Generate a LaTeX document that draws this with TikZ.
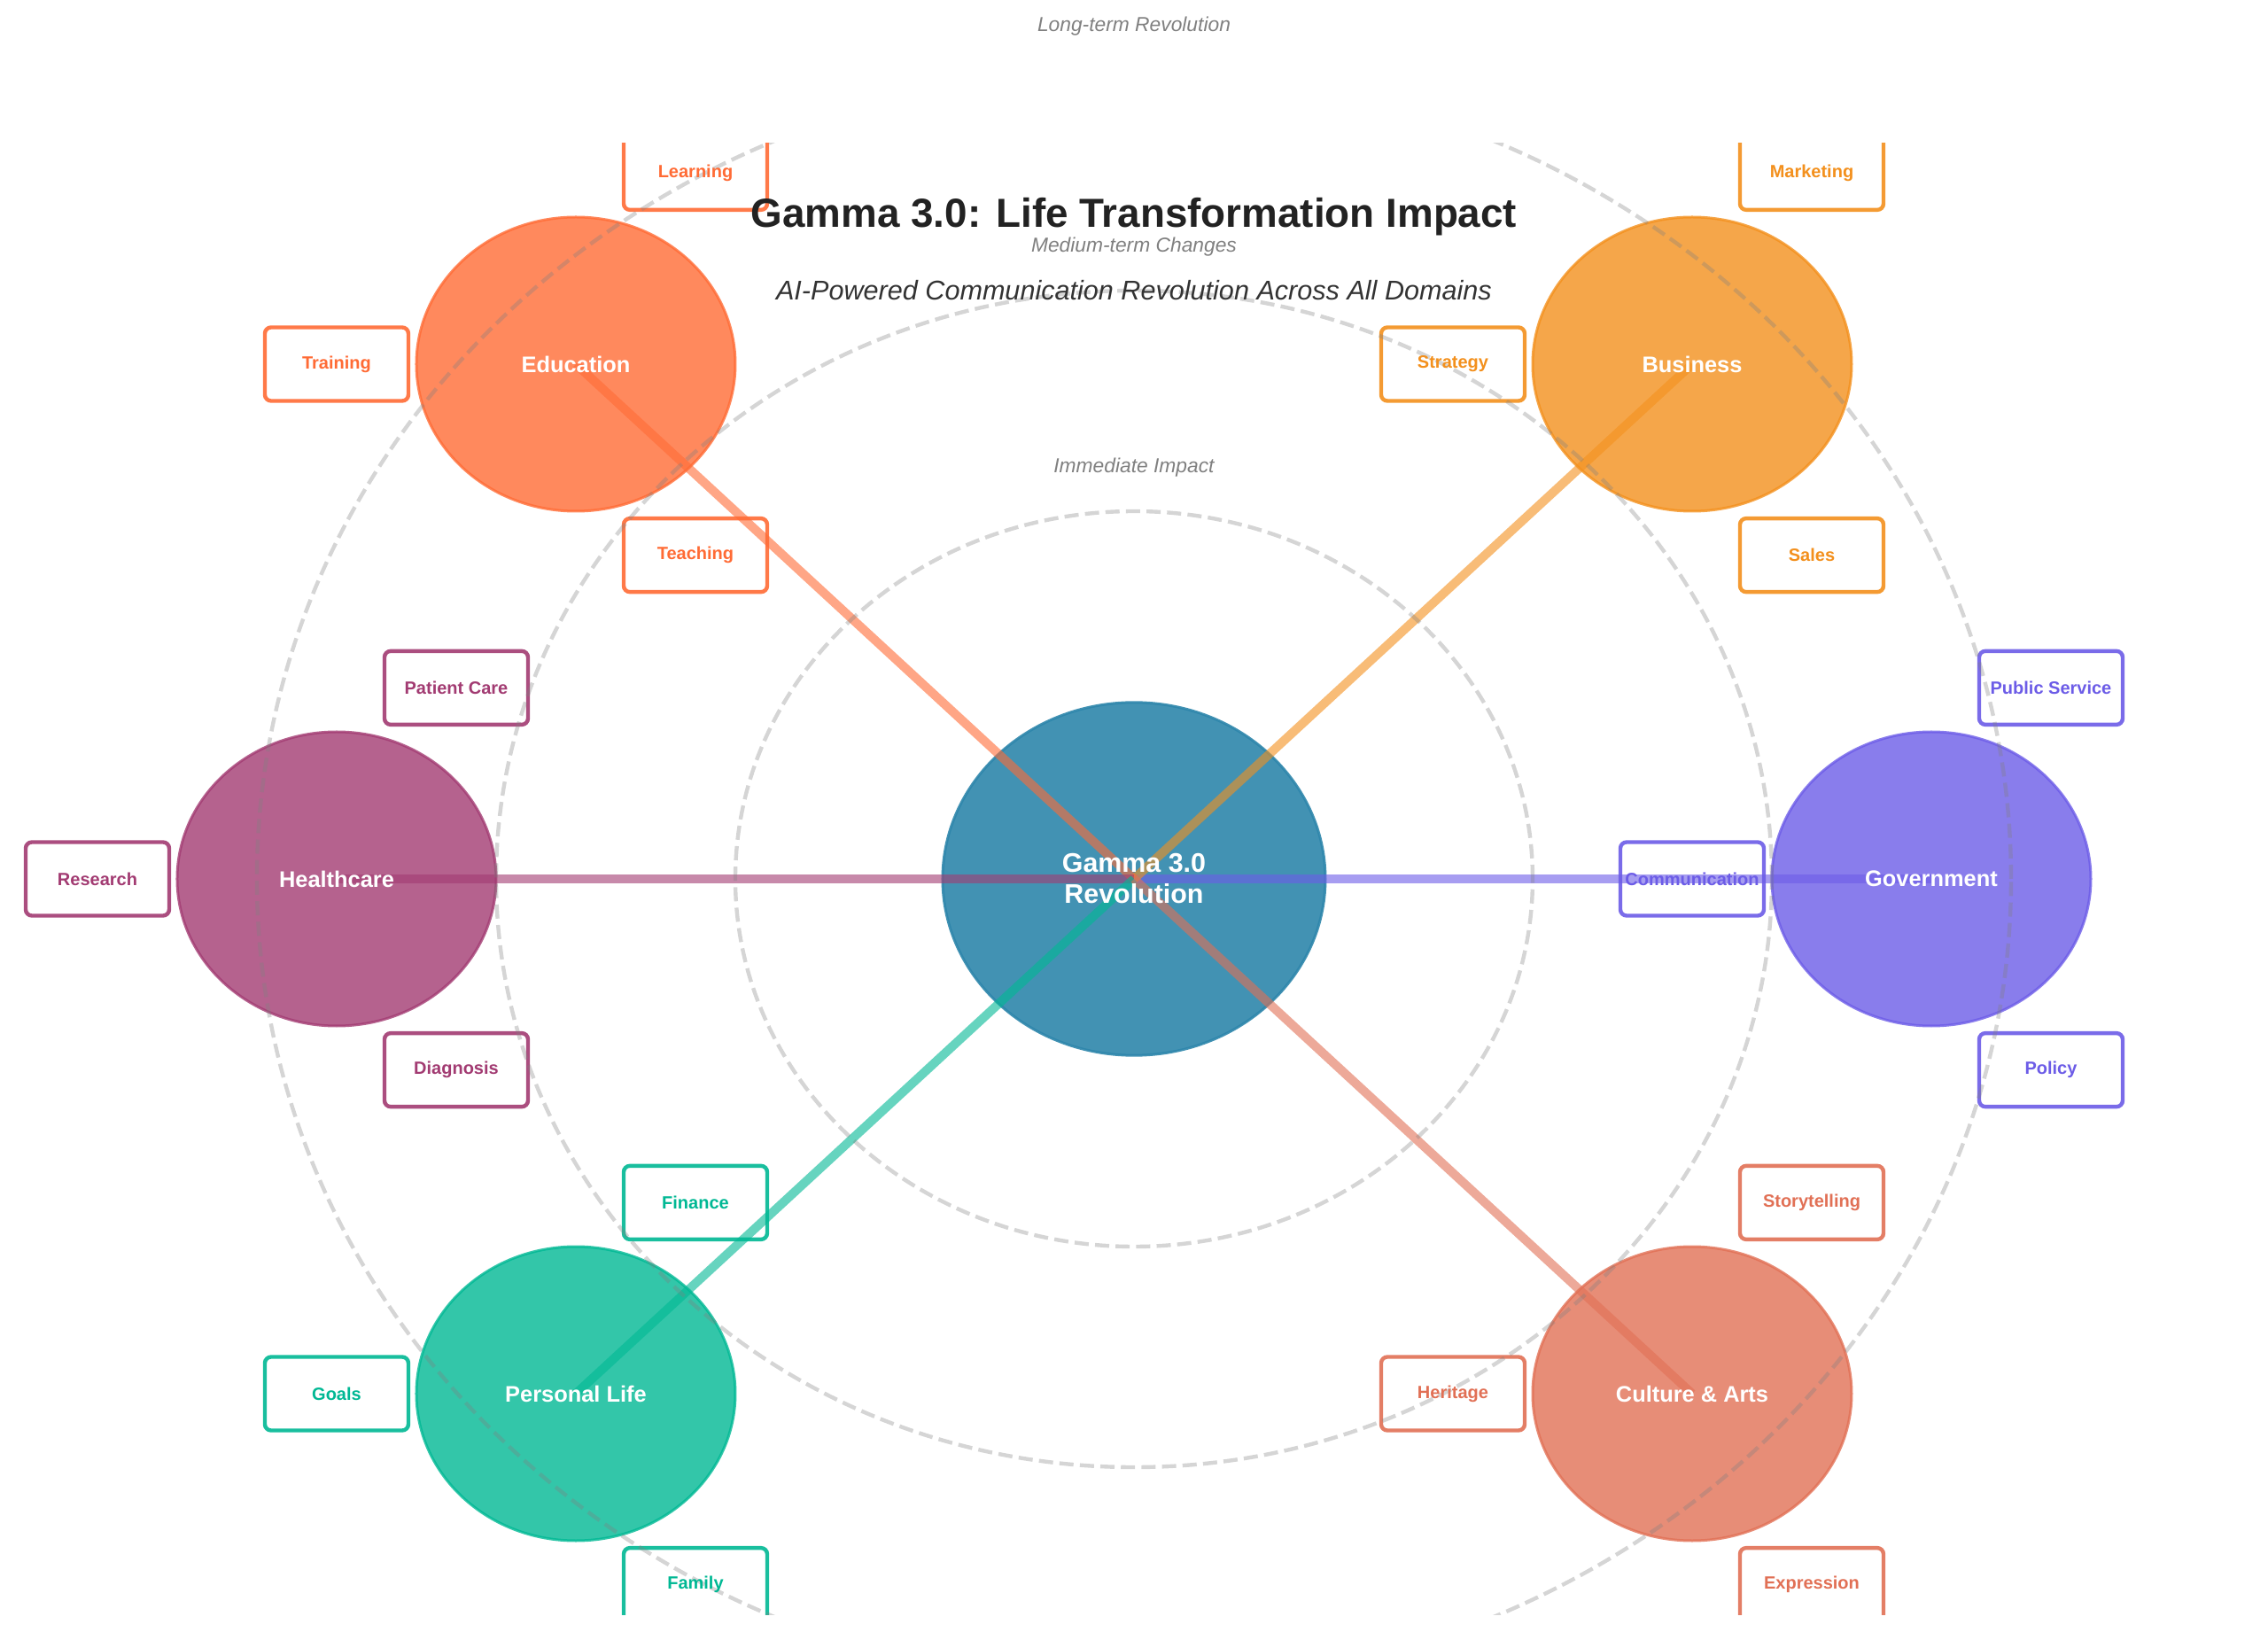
\documentclass[tikz,border=0pt]{standalone}
\usepackage{fontspec}
\setmainfont{Liberation Sans}
\usetikzlibrary{shapes.geometric,calc}
\definecolor{cHub}{HTML}{2E86AB}
\definecolor{cEdu}{HTML}{FF6B35}
\definecolor{cBus}{HTML}{F3901D}
\definecolor{cHea}{HTML}{A23B72}
\definecolor{cGov}{HTML}{6C5CE7}
\definecolor{cPer}{HTML}{00B894}
\definecolor{cCul}{HTML}{E17055}
\definecolor{cTitle}{HTML}{222222}
\definecolor{cSub}{HTML}{333333}
\definecolor{cRing}{HTML}{808080}
\begin{document}
\begin{tikzpicture}[x=90pt,y=83pt,
  dom/.style={ellipse, minimum width=180pt, minimum height=166pt, inner sep=0pt,
    fill=#1, draw=#1, line width=1.5pt, opacity=0.8},
  hub/.style={ellipse, minimum width=216pt, minimum height=199.2pt, inner sep=0pt,
    fill=cHub, draw=cHub, line width=1.5pt, opacity=0.9},
  subbox/.style={rectangle, rounded corners=3.5pt, minimum width=81pt, minimum height=41.5pt,
    inner sep=0pt, fill=white, draw=#1, line width=2.2pt, draw opacity=0.9},
  conn/.style={line width=5pt, draw=#1, opacity=0.6},
  ringline/.style={draw=cRing, line width=2.2pt, dash pattern=on 8pt off 3.6pt, opacity=0.33},
  domtxt/.style={text=white, inner sep=0pt, font=\fontsize{12.7}{15}\selectfont\bfseries},
  hubtxt/.style={text=white, inner sep=0pt, align=center, font=\fontsize{15.2}{17.5}\selectfont\bfseries},
  subtxt/.style={text=#1, inner sep=0pt, font=\fontsize{10}{12}\selectfont\bfseries},
  ringtxt/.style={text=cRing, inner sep=0pt, font=\fontsize{11.4}{13}\selectfont\itshape},
]
\useasboundingbox (-7.11111,-5.12048) rectangle (7.11111,5.97590);

\begin{scope}
\clip (-7.2,-5) rectangle (7.2,5);
% domain shapes and their sub-item boxes
\foreach \n/\px/\py/\c in {
  gov/5/0/cGov,
  bus/3.5/3.5/cBus,
  edu/-3.5/3.5/cEdu,
  hea/-5/0/cHea,
  per/-3.5/-3.5/cPer,
  cul/3.5/-3.5/cCul}{
  \node[dom=\c] (\n) at (\px,\py) {};
  \node[subbox=\c] (\n-a) at ($(\n)+(0.75,1.299)$) {};
  \node[subbox=\c] (\n-b) at ($(\n)+(-1.5,0)$) {};
  \node[subbox=\c] (\n-c) at ($(\n)+(0.75,-1.299)$) {};
}
\node[hub] (hub) at (0,0) {};
% connectors
\draw[conn=cGov] (hub.center) -- (gov.center);
\draw[conn=cBus] (hub.center) -- (bus.center);
\draw[conn=cEdu] (hub.center) -- (edu.center);
\draw[conn=cHea] (hub.center) -- (hea.center);
\draw[conn=cPer] (hub.center) -- (per.center);
\draw[conn=cCul] (hub.center) -- (cul.center);
% rings
\draw[ringline] (0,0) ellipse [x radius=225pt, y radius=207.5pt];
\draw[ringline] (0,0) ellipse [x radius=360pt, y radius=332pt];
\draw[ringline] (0,0) ellipse [x radius=495pt, y radius=456.5pt];
\end{scope}

% texts
\foreach \n/\c/\lab/\sa/\sb/\sc in {
  gov/cGov/Government/Public Service/Communication/Policy,
  bus/cBus/Business/Marketing/Strategy/Sales,
  edu/cEdu/Education/Learning/Training/Teaching,
  hea/cHea/Healthcare/Patient Care/Research/Diagnosis,
  per/cPer/Personal Life/Finance/Goals/Family,
  cul/cCul/Culture \& Arts/Storytelling/Heritage/Expression}{
  \node[domtxt] (\n-t) at (\n.center) {\lab};
  \node[subtxt=\c] (\n-at) at (\n-a.center) {\sa};
  \node[subtxt=\c] (\n-bt) at (\n-b.center) {\sb};
  \node[subtxt=\c] (\n-ct) at (\n-c.center) {\sc};
}
\node[hubtxt] (hub-t) at (hub.center) {Gamma 3.0\\Revolution};

\node[ringtxt] (r1) at (0,2.8) {Immediate Impact};
\node[ringtxt] (r2) at (0,4.3) {Medium-term Changes};
\node[ringtxt] (r3) at (0,5.8) {Long-term Revolution};

\node[text=cTitle, inner sep=0pt, font=\fontsize{22.9}{27}\selectfont\bfseries] (title) at (0,4.5)
  {Gamma 3.0: Life Transformation Impact};
\node[text=cSub, inner sep=0pt, font=\fontsize{15.3}{18}\selectfont\itshape] (subtitle) at (0,4.0)
  {AI-Powered Communication Revolution Across All Domains};
\end{tikzpicture}
\end{document}
